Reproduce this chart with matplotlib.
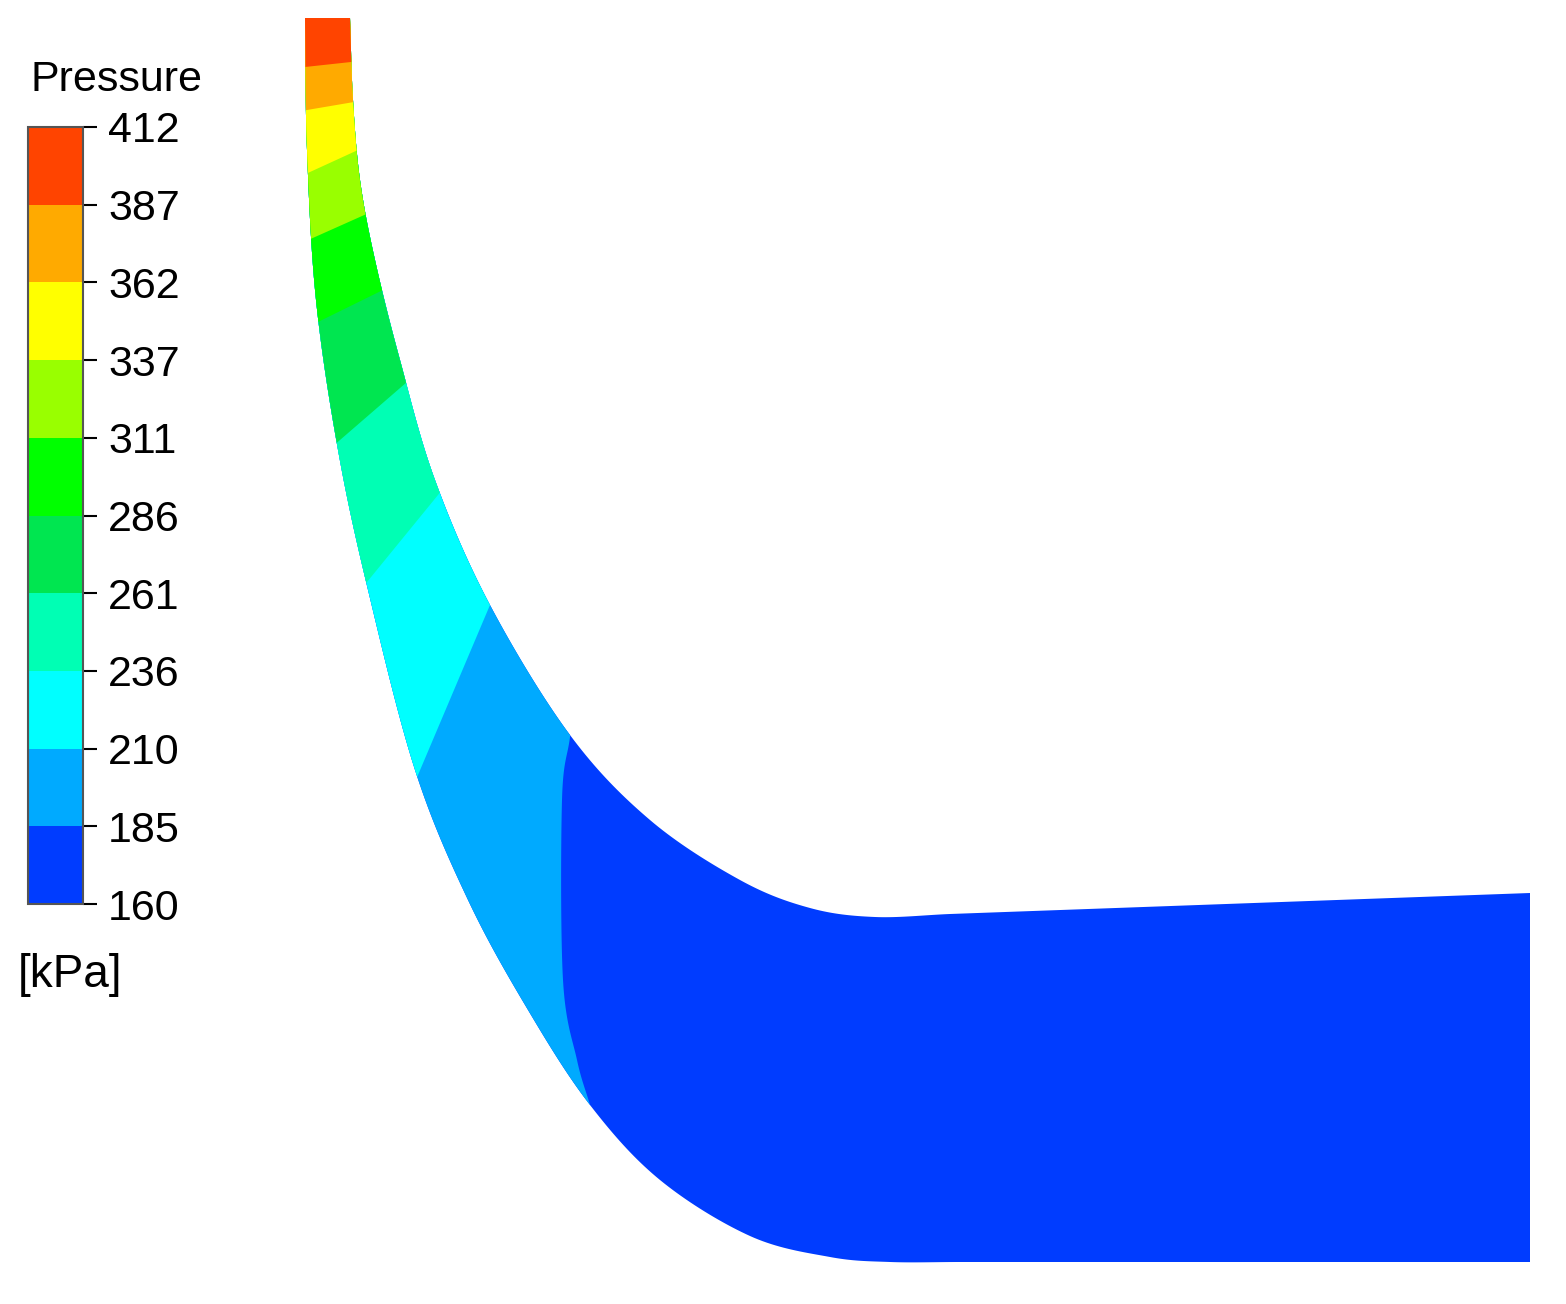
import matplotlib
matplotlib.use("Agg")
import matplotlib.pyplot as plt
import numpy as np
from matplotlib.colors import ListedColormap, BoundaryNorm
from matplotlib.patches import Polygon

plt.rcParams['font.family'] = ['Liberation Sans', 'DejaVu Sans']

levels = [160, 185, 210, 236, 261, 286, 311, 337, 362, 387, 412]
colors = ["#003cff", "#00aaff", "#00ffff", "#00ffb4", "#00e650",
          "#00ff00", "#99ff00", "#ffff00", "#ffaa00", "#ff4400"]

# channel walls (image pixel coordinates); last point is the straight outlet end
outer_wall = [(305, 18), (307, 150), (316, 300), (338, 450), (368, 590), (415, 770),
              (468, 900), (528, 1010), (590, 1105), (660, 1180), (750, 1236),
              (830, 1257), (890, 1262), (960, 1262), (1530, 1262)]
inner_wall = [(350, 18), (353, 100), (360, 180), (375, 260), (400, 360), (435, 480),
              (490, 605), (570, 735), (650, 820), (740, 880), (810, 908),
              (875, 917), (950, 914), (1530, 893)]

# iso-pressure boundaries (outer -> inner) for levels 185 ... 387
boundaries = [
    [(590, 1105), (577, 1060), (563, 980), (562, 800), (570, 737)],  # 185
    [(418, 775), (490, 605)],   # 210
    [(367, 582), (438, 495)],   # 236
    [(340, 440), (407, 382)],   # 261
    [(322, 320), (383, 290)],   # 286
    [(315, 237), (371, 212)],   # 311
    [(310, 172), (358, 150)],   # 337
    [(307, 110), (354, 102)],   # 362
    [(305, 67), (351, 62)],     # 387
]


def smooth(pts, n=20):
    p = np.array(pts, float)
    if len(p) < 3:
        return [tuple(x) for x in p]
    P = np.vstack([2 * p[0] - p[1], p, 2 * p[-1] - p[-2]])
    out = []
    for i in range(1, len(P) - 2):
        p0, p1, p2, p3 = P[i - 1], P[i], P[i + 1], P[i + 2]
        for t in np.linspace(0, 1, n, endpoint=False):
            out.append(0.5 * ((2 * p1) + (-p0 + p2) * t
                              + (2 * p0 - 5 * p1 + 4 * p2 - p3) * t ** 2
                              + (-p0 + 3 * p1 - 3 * p2 + p3) * t ** 3))
    out.append(p[-1])
    return [tuple(x) for x in out]


outer_s = smooth(outer_wall[:-1]) + [outer_wall[-1]]
inner_s = smooth(inner_wall[:-1]) + [inner_wall[-1]]

fig = plt.figure(figsize=(15.66, 13.04), dpi=100)
ax = fig.add_axes([0, 0, 1, 1])
ax.set_xlim(0, 1566)
ax.set_ylim(1304, 0)
ax.set_aspect("auto")
ax.axis("off")

channel = Polygon(outer_s + inner_s[::-1], closed=True, facecolor=colors[0],
                  edgecolor="none")
ax.add_patch(channel)


def ext(p, q, d=60):
    p, q = np.array(p, float), np.array(q, float)
    v = (p - q) / np.linalg.norm(p - q)
    return tuple(p + v * d)


for k, b in enumerate(boundaries, start=1):
    bs = smooth(b)
    o = ext(b[0], b[1])
    i = ext(b[-1], b[-2])
    pts = [o] + bs + [i, (i[0] + 20, -200), (150, -200), (150, o[1])]
    poly = Polygon(pts, closed=True, facecolor=colors[k], edgecolor="none")
    ax.add_patch(poly)
    poly.set_clip_path(channel)

# colorbar
cax = fig.add_axes([28 / 1566, 1 - 904 / 1304, 55 / 1566, 777 / 1304])
cmap = ListedColormap(colors)
norm = BoundaryNorm(levels, cmap.N)
cb = fig.colorbar(plt.cm.ScalarMappable(norm=norm, cmap=cmap), cax=cax,
                  ticks=levels, spacing="uniform")
cb.outline.set_edgecolor("#555555")
cb.outline.set_linewidth(1.5)
cax.tick_params(labelsize=31, length=10, width=1.5, pad=8)
cax.set_yticklabels([str(v) for v in levels])
fig.text(30 / 1566, 1 - 80 / 1304, "Pressure", fontsize=31, va="center", ha="left")
fig.text(18 / 1566, 1 - 975 / 1304, "[kPa]", fontsize=33, va="center", ha="left")

fig.savefig("out.png", dpi=100)
